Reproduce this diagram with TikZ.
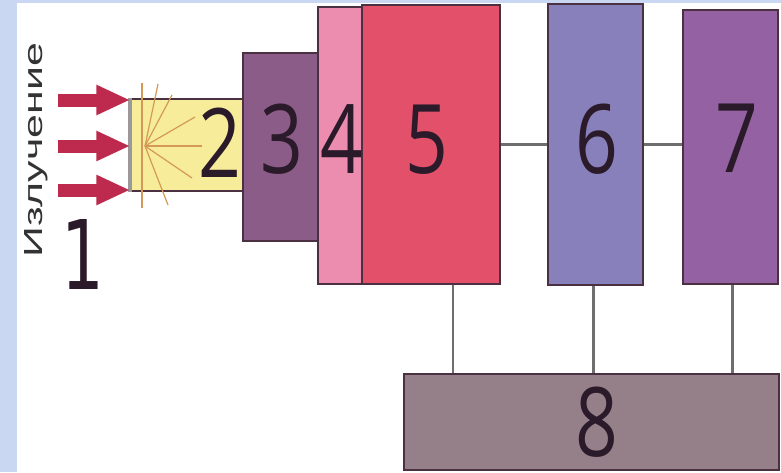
\documentclass[tikz,border=0pt]{standalone}
\usepackage{fontspec}
\setmainfont{Open Sans}
\newfontfamily\labfont{Liberation Sans}
\newfontfamily\onefont{DejaVu Sans}
\usetikzlibrary{arrows.meta}
\definecolor{bgblue}{HTML}{C9D7F2}
\definecolor{cyel}{HTML}{F7EC9A}
\definecolor{cthree}{HTML}{8C5C88}
\definecolor{cfour}{HTML}{EC8DB0}
\definecolor{cfive}{HTML}{E2506A}
\definecolor{csix}{HTML}{8880BA}
\definecolor{cseven}{HTML}{9462A2}
\definecolor{ceight}{HTML}{958089}
\definecolor{cedge}{HTML}{4A3040}
\definecolor{cwire}{HTML}{6E6E6E}
\definecolor{carrow}{HTML}{BE2A4E}
\definecolor{cray}{HTML}{D49A55}
\definecolor{cdig}{HTML}{2A1A2A}
\definecolor{clab}{HTML}{333333}
\newcommand{\dg}[1]{\scalebox{0.78}[1]{#1}}
\begin{document}
\begin{tikzpicture}[x=1pt,y=-1pt,
  blk/.style={draw=cedge, line width=1.5pt, rectangle, inner sep=0pt},
  wire/.style={draw=cwire, line width=2.5pt},
  radarrow/.style={draw=carrow, line width=13pt, -{Triangle[length=34pt,width=28pt]}},
  ray/.style={draw=cray, line width=1.2pt},
  dig/.style={text=cdig, inner sep=0pt, font=\fontsize{96}{96}\selectfont}]
\useasboundingbox (0,0) rectangle (781,472);
\fill[white] (0,0) rectangle (781,472);
\fill[bgblue] (0,0) rectangle (17,472);
\fill[bgblue] (0,0) rectangle (781,3);

% boxes
\node[blk, fill=cyel, minimum width=112pt, minimum height=92pt] (n2) at (187,145) {};
\node[blk, fill=cthree, minimum width=75pt, minimum height=188pt] (n3) at (280.5,147) {};
\node[blk, fill=cfour, minimum width=44pt, minimum height=277pt] (n4) at (340,145.5) {};
\node[blk, fill=cfive, minimum width=138pt, minimum height=279pt] (n5) at (431,144.5) {};
\node[blk, fill=csix, minimum width=95pt, minimum height=281pt] (n6) at (595.5,144.5) {};
\node[blk, fill=cseven, minimum width=95pt, minimum height=274pt] (n7) at (730.5,147) {};
\node[blk, fill=ceight, minimum width=375pt, minimum height=96pt] (n8) at (591.5,422) {};

% left edge of detector window
\draw[draw=black!40, line width=4pt] (n2.north west) -- (n2.south west);

% rays
\coordinate (sun) at (145,146);
\draw[ray] (142,83) -- (142,208);
\draw[ray] (sun) -- (202,146);
\draw[ray] (sun) -- (195,117);
\draw[ray] (sun) -- (172,95);
\draw[ray] (sun) -- (158,84);
\draw[ray] (sun) -- (192,178);
\draw[ray] (sun) -- (168,205);

% incoming radiation arrows
\coordinate (a1) at (58,100);
\coordinate (a2) at (58,146);
\coordinate (a3) at (58,190);
\draw[radarrow] (a1) -- (a1 -| n2.west);
\draw[radarrow] (a2) -- (a2 -| n2.west);
\draw[radarrow] (a3) -- (a3 -| n2.west);

% connectors
\draw[wire] (n5.east) -- (n6.west);
\draw[wire] (n6.east) -- (n6.east -| n7.west);
\draw[wire] ([xshift=22pt]n5.south) -- ([xshift=22pt]n5.south |- n8.north);
\draw[wire] ([xshift=-2pt]n6.south) -- ([xshift=-2pt]n6.south |- n8.north);
\draw[wire] ([xshift=2pt]n7.south) -- ([xshift=2pt]n7.south |- n8.north);

% digits
\node[dig] (t2) at (220,143) {\dg{2}};
\node[dig] (t3) at (282,139) {\dg{3}};
\node[dig] (t4) at (342,139) {\dg{4}};
\node[dig] (t5) at (427,140) {\dg{5}};
\node[dig] (t6) at (597,139) {\dg{6}};
\node[dig] (t7) at (737,138) {\dg{7}};
\node[dig] (t8) at (597,422) {\dg{8}};
\node[dig, font=\onefont\fontsize{96}{96}\selectfont] (t1) at (83,255) {\scalebox{0.7}[1]{1}};

% label
\node[rotate=90, anchor=base, inner sep=0pt, text=clab] (lbl) at (42,150) {\resizebox{214pt}{18pt}{\labfont Излучение}};
\end{tikzpicture}
\end{document}
